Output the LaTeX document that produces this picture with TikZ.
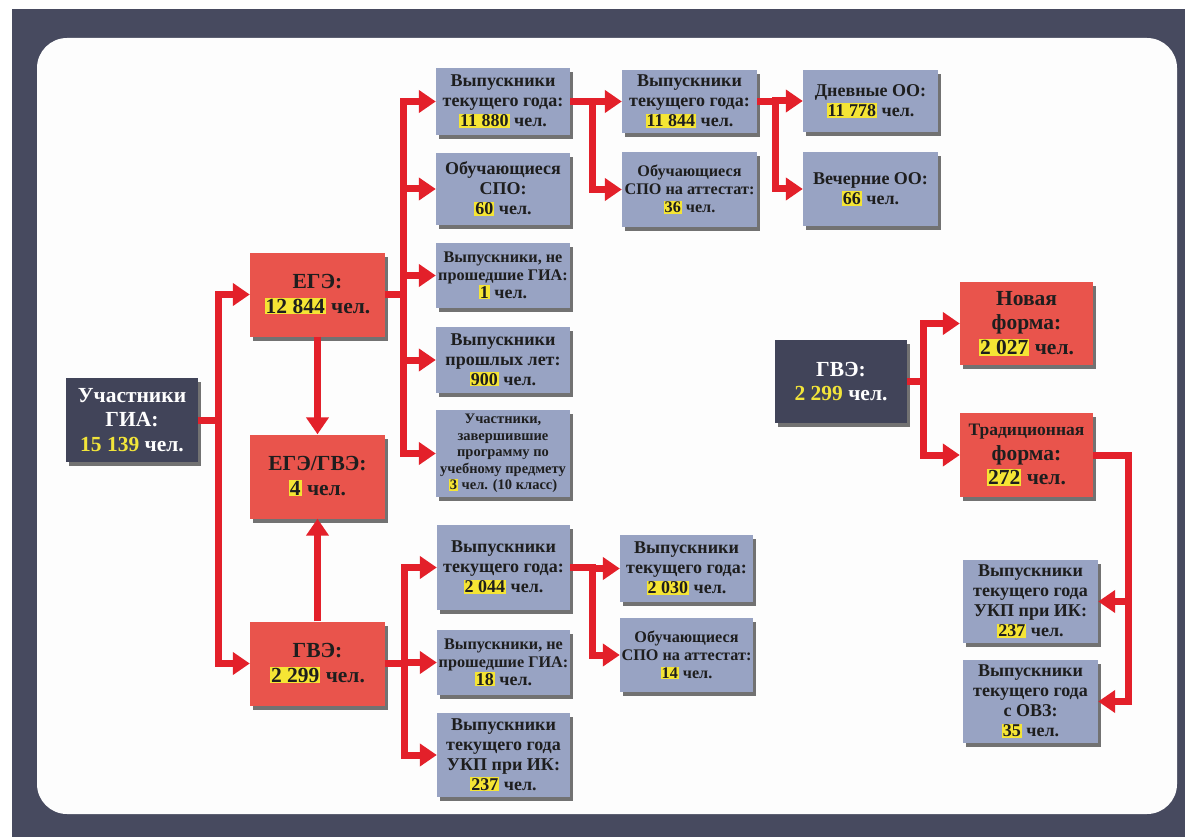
\documentclass[tikz,border=0pt]{standalone}
\usepackage{fontspec}
\setmainfont{Liberation Serif}
\usetikzlibrary{arrows.meta,shadows}
\definecolor{framec}{HTML}{474A5F}
\definecolor{paper}{HTML}{FDFDFD}
\definecolor{redbox}{HTML}{E9544C}
\definecolor{lbox}{HTML}{98A3C3}
\definecolor{arrc}{HTML}{E3202A}
\definecolor{darkbox}{HTML}{414459}
\definecolor{ylc}{HTML}{F2E53A}
\definecolor{hly}{HTML}{F5E534}
\definecolor{txtd}{HTML}{1E1E1E}
\newcommand\hl[1]{{\setlength{\fboxsep}{1pt}\colorbox{hly}{#1}}}
\newcommand\yl[1]{{\color{ylc}#1}}
\newcommand\fs[2]{{\fontsize{#1}{#1}\selectfont #2}}
\tikzset{
  boxbase/.style={inner sep=0pt, align=center, font=\bfseries,
    drop shadow={shadow xshift=3pt, shadow yshift=-4pt, opacity=0.55, fill=black}},
  redn/.style={boxbase, fill=redbox, text=txtd, minimum width=135, minimum height=84},
  darkn/.style={boxbase, fill=darkbox, text=white, minimum width=132, minimum height=84},
  lightn/.style={boxbase, fill=lbox, text=txtd, minimum width=134},
  arr/.style={draw=arrc, line width=7pt, line join=miter, -{Triangle[length=17pt,width=22pt]}},
  big/.style={font=\bfseries\fontsize{21.5}{24.5}\selectfont},
  mid/.style={font=\bfseries\fontsize{18}{20}\selectfont},
  sml/.style={font=\bfseries\fontsize{16.2}{18}\selectfont},
  tiny/.style={font=\bfseries\fontsize{14.5}{16.5}\selectfont}
}
\begin{document}
\begin{tikzpicture}[x=1pt,y=-1pt]
\useasboundingbox (0,0) rectangle (1185,837);
\fill[framec] (12,9) rectangle (1185,837);
\fill[paper, rounded corners=30pt] (37,38) rectangle (1177,814);

% left part
\node[darkn, big] (uch) at (132,420) {Участники\\ГИА:\\\yl{15 139} чел.};
\node[redn, big] (ege) at (317.5,294.5) {ЕГЭ:\\\hl{12 844} чел.};
\node[redn, big] (egegve) at (317.5,476.5) {ЕГЭ/ГВЭ:\\\hl{4} чел.};
\node[redn, big] (gve) at (317.5,663.5) {ГВЭ:\\\hl{2 299} чел.};

% column 2 (upper)
\node[lightn, mid, minimum height=67] (a1) at (503,101.5) {Выпускники\\текущего года:\\\hl{11 880} чел.};
\node[lightn, mid, minimum height=72] (a2) at (503,189) {Обучающиеся\\СПО:\\\hl{60} чел.};
\node[lightn, sml, minimum height=65] (a3) at (503,275.5) {Выпускники, не\\прошедшие ГИА:\\\fs{18}{\hl{1} чел.}};
\node[lightn, mid, minimum height=66] (a4) at (503,360) {Выпускники\\прошлых лет:\\\hl{900} чел.};
\node[lightn, tiny, minimum height=87] (a5) at (503,453.5) {Участники,\\завершившие\\программу по\\учебному предмету\\\hl{3} чел. (10 класс)};

% column 3 (upper)
\node[lightn, mid, minimum width=135, minimum height=63] (b1) at (689.5,101.5) {Выпускники\\текущего года:\\\hl{11 844} чел.};
\node[lightn, sml, minimum width=135, minimum height=75] (b2) at (689.5,189.5) {Обучающиеся\\СПО на аттестат:\\\hl{36} чел.};

% column 4
\node[lightn, mid, minimum width=135, minimum height=62] (c1) at (870.5,101) {Дневные ОО:\\\hl{11 778} чел.};
\node[lightn, mid, minimum width=135, minimum height=74] (c2) at (870.5,189) {Вечерние ОО:\\\hl{66} чел.};

% column 2 (lower)
\node[lightn, mid, minimum width=133, minimum height=85] (d1) at (503.5,567.5) {Выпускники\\текущего года:\\\hl{2 044} чел.};
\node[lightn, sml, minimum width=133, minimum height=65] (d2) at (503.5,662.5) {Выпускники, не\\прошедшие ГИА:\\\fs{18}{\hl{18} чел.}};
\node[lightn, mid, minimum width=133, minimum height=84] (d3) at (503.5,755) {Выпускники\\текущего года\\УКП при ИК:\\\hl{237} чел.};

% column 3 (lower)
\node[lightn, mid, minimum width=133, minimum height=67] (e1) at (686.5,568.5) {Выпускники\\текущего года:\\\hl{2 030} чел.};
\node[lightn, sml, minimum width=133, minimum height=74] (e2) at (686.5,655) {Обучающиеся\\СПО на аттестат:\\\hl{14} чел.};

% right part
\node[darkn, big, minimum height=83] (gve2) at (841,381.5) {ГВЭ:\\\yl{2 299} чел.};
\node[redn, big, minimum width=133, minimum height=83] (nf) at (1026.5,323.5) {Новая\\форма:\\\hl{2 027} чел.};
\node[redn, big, minimum width=133, minimum height=84] (tf) at (1026.5,455) {\fs{17.5}{Традиционная}\\форма:\\\hl{272} чел.};
\node[lightn, mid, minimum width=135, minimum height=83] (f1) at (1030.5,601.5) {Выпускники\\текущего года\\УКП при ИК:\\\hl{237} чел.};
\node[lightn, mid, minimum width=135, minimum height=83] (f2) at (1030.5,701.5) {Выпускники\\текущего года\\с ОВЗ:\\\hl{35} чел.};

% connectors
\draw[arr] (uch.east) -- ++(20,0) |- (ege.west);
\draw[arr] (uch.east) -- ++(20,0) |- (gve.west);
\draw[arr] (ege.south) -- (egegve.north);
\draw[arr] (gve.north) -- (egegve.south);
\foreach \t in {a1,a2,a3,a4,a5}
  \draw[arr] (ege.east) -- ++(18,0) |- (\t.west);
\draw[arr] (a1.east) -- ++(22,0) |- (b1.west);
\draw[arr] (a1.east) -- ++(22,0) |- (b2.west);
\draw[arr] (b1.east) -- ++(18,0) |- (c1.west);
\draw[arr] (b1.east) -- ++(18,0) |- (c2.west);
\foreach \t in {d1,d2,d3}
  \draw[arr] (gve.east) -- ++(19,0) |- (\t.west);
\draw[arr] (d1.east) -- ++(22,0) |- (e1.west);
\draw[arr] (d1.east) -- ++(22,0) |- (e2.west);
\draw[arr] (gve2.east) -- ++(16,0) |- (nf.west);
\draw[arr] (gve2.east) -- ++(16,0) |- (tf.west);
\draw[arr] (tf.east) -- ++(35,0) |- (f1.east);
\draw[arr] (tf.east) -- ++(35,0) |- (f2.east);
\end{tikzpicture}
\end{document}
